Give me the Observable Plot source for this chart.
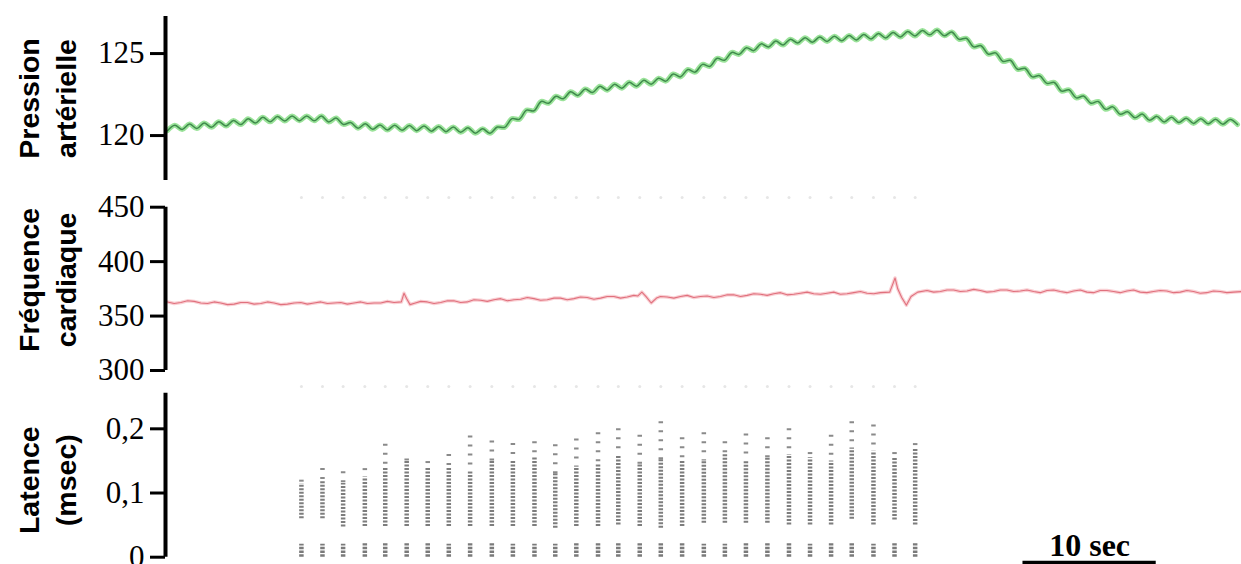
<!DOCTYPE html>
<html><head><meta charset="utf-8">
<script src="https://cdn.jsdelivr.net/npm/d3@7"></script>
<script src="https://cdn.jsdelivr.net/npm/@observablehq/plot@0.6"></script>
<style>
html,body{margin:0;padding:0;background:#fff;width:1241px;height:564px;overflow:hidden}
#wrap{position:relative;width:1241px;height:564px;overflow:hidden}
.panel{position:absolute;left:0}
</style></head><body><div id="wrap"></div>
<script>
// ---------- DATA ----------
// Blood pressure (mmHg), one sample every BP_STEP seconds (peaks/troughs of respiratory wiggle)
const BP_STEP = 0.55;
const BP_VALUES = [
120.30,120.63,120.37,120.70,120.43,120.77,120.50,120.84,120.58,120.92,
120.67,121.02,120.77,121.11,120.84,121.16,120.89,121.20,120.90,121.20,
120.90,121.19,120.83,121.07,120.68,120.79,120.45,120.72,120.38,120.65,
120.34,120.63,120.32,120.61,120.30,120.59,120.27,120.55,120.24,120.52,
120.20,120.47,120.14,120.41,120.14,120.52,120.50,121.03,120.99,121.55,
121.51,122.08,121.97,122.40,122.24,122.67,122.45,122.84,122.62,123.01,
122.77,123.13,122.89,123.25,123.01,123.37,123.13,123.49,123.32,123.75,
123.58,124.03,123.87,124.34,124.22,124.71,124.59,125.07,124.95,125.36,
125.18,125.59,125.40,125.76,125.52,125.88,125.64,125.97,125.69,126.01,
125.74,126.06,125.78,126.10,125.83,126.16,125.89,126.22,125.95,126.28,
126.01,126.34,126.07,126.40,126.14,126.43,126.08,126.32,125.87,125.93,
125.41,125.48,124.96,125.04,124.52,124.59,124.04,124.10,123.58,123.65,
123.18,123.24,122.71,122.79,122.30,122.41,121.97,122.08,121.60,121.75,
121.30,121.45,121.08,121.31,120.93,121.17,120.83,121.11,120.79,121.06,
120.74,121.03,120.72,121.00,120.69,120.98,120.67
];
const BP_TICKS = [120, 125];

// Heart rate (bpm)
const HR_T = [0,0.5,1,1.5,2,2.5,3,3.5,4,4.5,5,5.5,6,6.5,7,7.5,8,8.5,9,9.5,10,10.5,11,11.5,12,12.5,13,13.5,14,14.5,15,15.5,16,16.5,17,17.55,17.75,17.95,18.2,18.6,
19,19.5,20,20.5,21,21.5,22,22.5,23,23.5,24,24.5,25,25.5,26,26.5,27,27.5,28,28.5,29,29.5,30,30.5,31,31.5,32,32.5,33,33.5,34,34.5,35,35.3,35.6,35.9,36.3,36.7,
37,37.5,38,38.5,39,39.5,40,40.5,41,41.5,42,42.5,43,43.5,44,44.5,45,45.5,46,46.5,47,47.5,48,48.5,49,49.5,50,50.5,51,51.5,52,52.5,53,53.5,54.2,54.45,54.6,54.8,55.1,55.45,55.8,56.3,
57,57.5,58,58.5,59,59.5,60,60.5,61,61.5,62,62.5,63,63.5,64,64.5,65,65.5,66,66.5,67,67.5,68,68.5,69,69.5,70,70.5,71,71.5,72,72.5,73,73.5,74,74.5,75,75.5,76,76.5,77,77.5,78,78.5,79,79.5,80,80.6];
const HR_V = [363,361.5,362.5,364,363.5,362,361.5,363,362,360.5,361,362.5,362.5,361,361.5,363,362,360.5,361,362,362.5,361,362,363,361.5,362,362.5,361,362,363,361.5,362,362,363.5,362.5,363,371,366,360.5,362,
363.5,363,361.5,362.5,364,364,362.5,363,365,364.5,363.5,365,366,364,365,365.5,367,366,364.5,365,366.5,366.5,365,366,367.5,367,365.5,366.5,368,368,366.5,367.5,369,368.5,372,368,362,366.5,
368,367.5,366.5,368,369,367,368,368.5,367,368,369.5,369.5,368,369,370.5,370,369,370.5,371.5,369.5,370,371,372,370.5,370,371,372,370,370.5,371.5,372.5,371,370.5,371.5,372,380,385,375,367,360,368,372,
373.5,372,372.5,374,374,372.5,373,374.5,373.5,372,372.5,374,374,372.5,373,374,372.5,371.5,373.5,374,372.5,371.5,373,374,372,371.5,373.5,373.5,372.5,371.5,373,374,372,371.5,372.5,373.5,373,371.5,372,373.5,372.5,371,371.5,373,372.5,371.5,372,372.5];
const HR_TICKS = [300, 350, 400, 450];

// Latency (msec): one column of spikes per time
const LAT_T = [10.05,11.63,13.18,14.81,16.34,17.95,19.53,21.11,22.71,24.34,25.92,27.54,29.10,30.68,32.31,33.83,35.44,37.02,38.62,40.25,41.83,43.41,45.02,46.64,48.22,49.80,51.35,52.98,54.56,56.11];
const LAT_LOW_TOP = [0.020,0.020,0.020,0.021,0.021,0.021,0.021,0.020,0.021,0.021,0.020,0.020,0.020,0.021,0.021,0.021,0.021,0.021,0.021,0.020,0.020,0.021,0.021,0.021,0.020,0.021,0.021,0.020,0.021,0.021];
const LAT_BOTTOM = [0.060,0.060,0.047,0.048,0.048,0.048,0.048,0.048,0.048,0.048,0.048,0.048,0.045,0.048,0.048,0.050,0.048,0.045,0.048,0.053,0.053,0.053,0.053,0.050,0.050,0.050,0.059,0.050,0.058,0.050];
const LAT_MAIN_TOP = [0.115,0.120,0.115,0.125,0.140,0.150,0.140,0.140,0.132,0.150,0.150,0.155,0.130,0.140,0.145,0.158,0.145,0.152,0.150,0.150,0.160,0.150,0.155,0.160,0.155,0.150,0.170,0.165,0.155,0.170];
const LAT_TOP = [0.120,0.138,0.133,0.138,0.176,0.153,0.149,0.160,0.189,0.181,0.177,0.180,0.175,0.184,0.194,0.200,0.190,0.211,0.186,0.194,0.180,0.192,0.186,0.200,0.163,0.190,0.211,0.206,0.163,0.177];
const LAT_TICKS = [0, 0.1, 0.2];

const SCALE_BAR_START = 64.2, SCALE_BAR_LEN = 10, SCALE_BAR_LABEL = "10 sec";
const LABELS = ["Pression\nartérielle", "Fréquence\ncardiaque", "Latence\n(msec)"];

// ---------- CHART ----------
const X_DOMAIN = [-0.15, 80.6];
const SERIF = "Liberation Serif, Times New Roman, serif";
const SANS = "Liberation Sans, Arial, sans-serif";
const wrap = document.getElementById("wrap");

function base(height, mt, mb, yDomain, marks) {
  return Plot.plot({
    width: 1241, height, marginLeft: 165, marginRight: 0, marginTop: mt, marginBottom: mb,
    x: {domain: X_DOMAIN, axis: null},
    y: {domain: yDomain, axis: null},
    style: {background: "transparent", overflow: "visible", fontFamily: SERIF, color: "#000"},
    marks
  });
}
function yAxis(ticks, fmt) {
  return [
    Plot.ruleX([X_DOMAIN[0]], {strokeWidth: 4, stroke: "#000"}),
    Plot.axisY(ticks, {anchor: "left", tickSize: 15, tickPadding: 6, strokeWidth: 3, fontSize: 31,
      fontFamily: SERIF, tickFormat: fmt, label: null})
  ];
}
function sideLabel(text, dy) {
  return Plot.text([text], {text: d => d, frameAnchor: "left", dx: -120, dy, rotate: -90,
    lineHeight: 1.32, lineAnchor: "middle", textAnchor: "middle", fontSize: 28.5,
    fontWeight: "bold", fontFamily: SANS, fill: "#000"});
}
function place(svg, top) { svg.classList.add("panel"); svg.style.top = top + "px"; wrap.appendChild(svg); }

// Panel 1: blood pressure
const bp = BP_VALUES.map((v, i) => ({t: i * BP_STEP, v}));
place(base(186, 16, 6, [117.26, 127.26], [
  Plot.line(bp, {x: "t", y: "v", stroke: "#9be39a", strokeWidth: 5, curve: "catmull-rom"}),
  Plot.line(bp, {x: "t", y: "v", stroke: "#3f8a4c", strokeWidth: 1.5, curve: "catmull-rom"}),
  ...yAxis(BP_TICKS, d => String(d)),
  sideLabel(LABELS[0], 0)
]), 0);

// Panel 2: heart rate
const hr = HR_T.map((t, i) => ({t, v: HR_V[i]}));
place(base(194, 20.7, 10, [300, 450], [
  Plot.dot(LAT_T, {x: d => d, y: 459, r: 1.5, fill: "#e6e6e6"}),
  Plot.line(hr, {x: "t", y: "v", stroke: "#f9d0d4", strokeWidth: 3.5}),
  Plot.line(hr, {x: "t", y: "v", stroke: "#e0707d", strokeWidth: 1.1}),
  ...yAxis(HR_TICKS, d => String(d)),
  sideLabel(LABELS[1], -9)
]), 186);

// Panel 3: latency
const cols = LAT_T.map((t, i) => ({t, zero: 0, lo: LAT_LOW_TOP[i], b: LAT_BOTTOM[i], m: LAT_MAIN_TOP[i], top: LAT_TOP[i]}));
const fmtComma = d => d === 0 ? "0" : d.toFixed(1).replace(".", ",");
place(base(184, 12.7, 7.3, [0, 0.2555], [
  Plot.dot(LAT_T, {x: d => d, y: 0.266, r: 1.5, fill: "#e6e6e6"}),
  Plot.ruleX(cols, {x: "t", y1: "zero", y2: "lo", stroke: "#7a7a7a", strokeWidth: 4.5, strokeDasharray: "2.5,1.2"}),
  Plot.ruleX(cols, {x: "t", y1: "b", y2: "m", stroke: "#7d7d7d", strokeWidth: 4.5, strokeDasharray: "2,1.5"}),
  Plot.ruleX(cols, {x: "t", y1: "top", y2: "m", stroke: "#8a8a8a", strokeWidth: 4.5, strokeDasharray: "2,7"}),
  ...yAxis(LAT_TICKS, fmtComma),
  sideLabel(LABELS[2], 5),
  Plot.ruleY([SCALE_BAR_START], {x1: d => d, x2: d => d + SCALE_BAR_LEN, y: -0.0085, strokeWidth: 4, stroke: "#000"}),
  Plot.text([SCALE_BAR_LABEL], {text: d => d, x: SCALE_BAR_START + SCALE_BAR_LEN / 2, y: 0.0015,
    lineAnchor: "bottom", fontSize: 32, fontWeight: "bold", fontFamily: SERIF, fill: "#000"})
]), 380);
</script></body></html>
